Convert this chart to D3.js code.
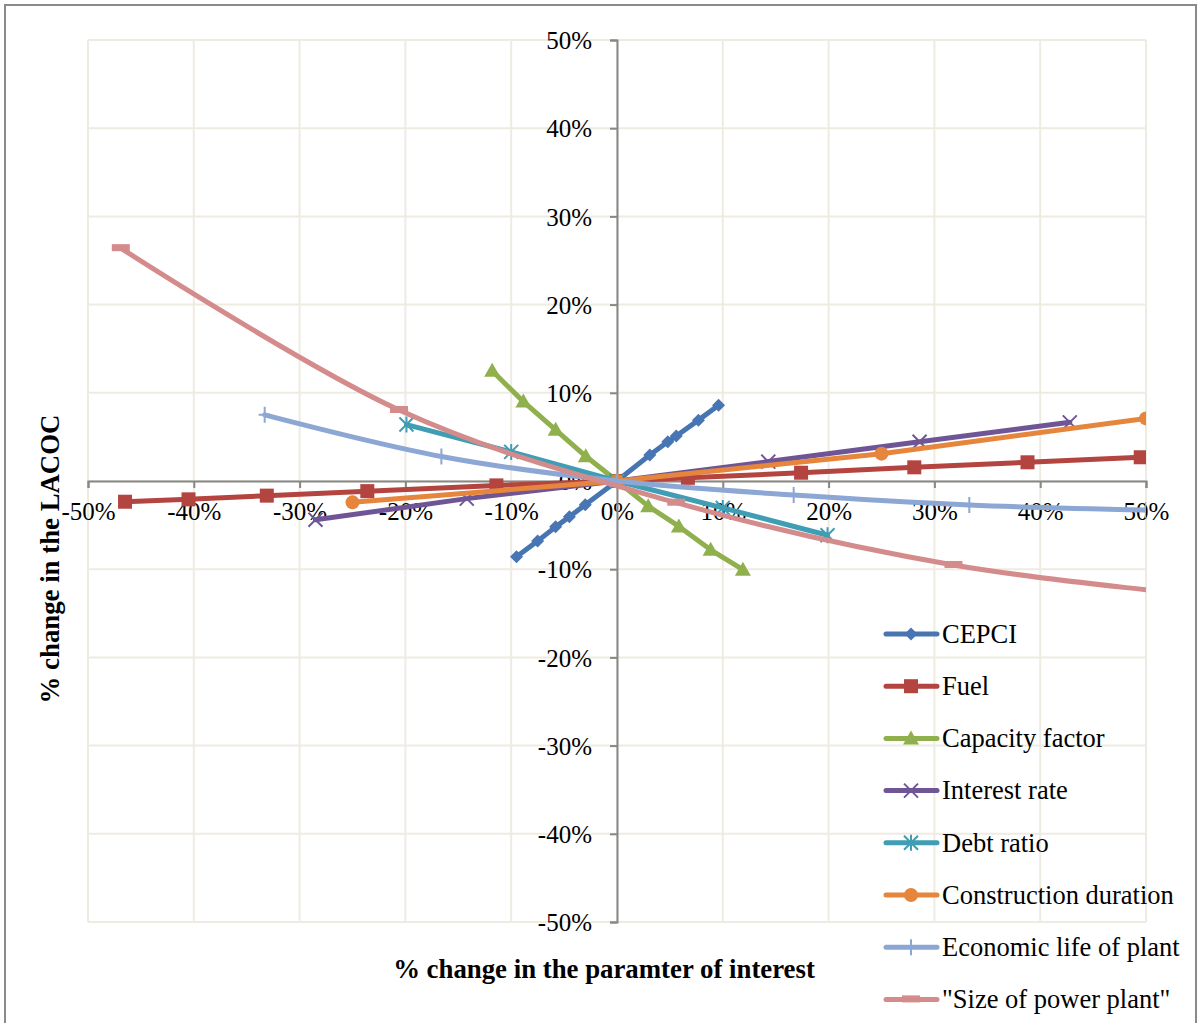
<!DOCTYPE html>
<html>
<head>
<meta charset="utf-8">
<script src="https://cdn.jsdelivr.net/npm/d3@7/dist/d3.min.js"></script>
<style>
  html, body { margin: 0; padding: 0; background: #fff; }
  svg { display: block; }
  text { font-family: "Liberation Serif", "Times New Roman", serif; fill: #000; }
</style>
</head>
<body>
<svg id="chart" width="1199" height="1023"></svg>
<script>
// Sensitivity of LACOC: [% change in parameter, % change in LACOC]
const cepci = [[-9.5,-8.6],[-7.5,-6.8],[-5.8,-5.2],[-4.5,-4.05],[-3.0,-2.7],[0,0],[3.1,2.95],[4.8,4.45],[5.6,5.1],[7.7,6.9],[9.6,8.6]];
const fuel = [[-46.5,-2.35],[-40.5,-2.08],[-33.1,-1.66],[-23.6,-1.15],[-11.4,-0.5],[0,0],[6.7,0.36],[17.4,0.94],[28.1,1.55],[38.8,2.12],[49.5,2.69]];
const capacityFactor = [[-11.8,12.5],[-8.85,9.0],[-5.8,5.8],[-2.95,2.8],[0,0],[2.95,-2.85],[5.85,-5.15],[8.85,-7.8],[11.9,-10.05]];
const interestRate = [[-28.5,-4.4],[-14.2,-2.0],[0,0],[14.3,2.2],[28.6,4.45],[42.8,6.65]];
const debtRatio = [[-19.9,6.4],[-10.0,3.3],[0,0],[10.0,-3.05],[19.9,-6.15]];
const constructionDuration = [[-25.0,-2.42],[0,0],[25.0,3.1],[50.0,7.1]];
const economicLife = [[-33.3,7.5],[-16.6,2.78],[0,0],[16.7,-1.59],[33.3,-2.72],[50.0,-3.3]];
const plantSize = [[-46.9,26.4],[-20.6,8.05],[5.6,-2.46],[31.8,-9.52],[57.9,-13.3]];

const tickValues = [-50,-40,-30,-20,-10,0,10,20,30,40,50];
const tickLabel = v => v + "%";

const seriesNames = ["CEPCI","Fuel","Capacity factor","Interest rate","Debt ratio","Construction duration","Economic life of plant","\"Size of power plant\""];
const seriesData = [cepci, fuel, capacityFactor, interestRate, debtRatio, constructionDuration, economicLife, plantSize];
const lineColors = ["#4675B2","#B3443F","#8FB04C","#705596","#3F9DB4","#E6853C","#8DA7D5","#D38C8B"];
const markerColors = ["#4876B4","#B3443F","#8FB04C","#705596","#3F9DB4","#E6853C","#8DA7D5","#D38C8B"];
const markerKinds = ["diamond","square","triangle","cross","asterisk","circle","plus","dash"];
const smoothed = [false,false,false,false,false,false,true,true];

const svg = d3.select("#chart");
const x = d3.scaleLinear().domain([-50,50]).range([88,1146]);
const y = d3.scaleLinear().domain([-50,50]).range([922,40]);

// outer frame
svg.append("rect").attr("x",5).attr("y",5).attr("width",1191).attr("height",1030)
  .attr("fill","none").attr("stroke","#8a8a8a").attr("stroke-width",2);

// gridlines
const grid = svg.append("g").attr("stroke","#EEEBE1").attr("stroke-width",2);
grid.selectAll(".gx").data(tickValues).join("line")
  .attr("x1",d=>x(d)).attr("x2",d=>x(d)).attr("y1",y(50)).attr("y2",y(-50));
grid.selectAll(".gy").data(tickValues).join("line")
  .attr("y1",d=>y(d)).attr("y2",d=>y(d)).attr("x1",x(-50)).attr("x2",x(50));

// axes through the origin
const xAxis = d3.axisBottom(x).tickValues(tickValues).tickFormat(tickLabel).tickSize(7).tickPadding(14);
const yAxis = d3.axisLeft(y).tickValues(tickValues).tickFormat(tickLabel).tickSize(7).tickPadding(18);

const gx = svg.append("g").attr("transform",`translate(0,${y(0)})`).call(xAxis);
const gy = svg.append("g").attr("transform",`translate(${x(0)},0)`).call(yAxis);
[gx,gy].forEach(g => {
  g.select(".domain").attr("stroke","#878787").attr("stroke-width",2);
  g.selectAll(".tick line").attr("stroke","#878787").attr("stroke-width",2);
  g.selectAll(".tick text").attr("font-family","Liberation Serif").attr("font-size",25).attr("fill","#000");
});
gx.selectAll(".tick text").attr("dy","0.71em");
gy.selectAll(".tick text").attr("dy","0.35em");

// axis titles
svg.append("text").attr("x",604).attr("y",978).attr("text-anchor","middle")
  .attr("font-size",26.8).attr("font-weight","bold").text("% change in the paramter of interest");
svg.append("text").attr("transform","translate(59,559) rotate(-90)").attr("text-anchor","middle")
  .attr("font-size",26.8).attr("font-weight","bold").text("% change in the LACOC");

// marker drawing
function drawMarker(g, kind, color) {
  switch (kind) {
    case "diamond":
      g.append("path").attr("d","M0,-6.5L6.5,0L0,6.5L-6.5,0Z").attr("fill",color);
      break;
    case "square":
      g.append("rect").attr("x",-7).attr("y",-7).attr("width",14).attr("height",14).attr("fill",color);
      break;
    case "triangle":
      g.append("path").attr("d","M0,-8L8,6L-8,6Z").attr("fill",color);
      break;
    case "cross":
      g.append("path").attr("d","M-7,-7L7,7M-7,7L7,-7").attr("stroke",color).attr("stroke-width",2).attr("fill","none");
      break;
    case "asterisk":
      g.append("path").attr("d","M-7,-7L7,7M-7,7L7,-7M0,-8L0,8").attr("stroke",color).attr("stroke-width",2).attr("fill","none");
      break;
    case "circle":
      g.append("circle").attr("r",7).attr("fill",color);
      break;
    case "plus":
      g.append("path").attr("d","M0,-8L0,8M-6,0L6,0").attr("stroke",color).attr("stroke-width",2).attr("fill","none");
      break;
    case "dash":
      g.append("rect").attr("x",-9).attr("y",-4).attr("width",18).attr("height",7).attr("fill",color);
      break;
  }
}

// plot-area clip
svg.append("clipPath").attr("id","plotClip").append("rect")
  .attr("x",x(-50)).attr("y",y(50)).attr("width",x(50)-x(-50)).attr("height",y(-50)-y(50));

const plot = svg.append("g").attr("clip-path","url(#plotClip)");
seriesData.forEach((data,i) => {
  const line = d3.line().x(d=>x(d[0])).y(d=>y(d[1]))
    .curve(smoothed[i] ? d3.curveCardinal.tension(0) : d3.curveLinear);
  const sg = plot.append("g");
  sg.append("path").datum(data).attr("d",line).attr("fill","none")
    .attr("stroke",lineColors[i]).attr("stroke-width",5)
    .attr("stroke-linejoin","round").attr("stroke-linecap","round");
  data.forEach(d => {
    const mg = sg.append("g").attr("transform",`translate(${x(d[0])},${y(d[1])})`);
    drawMarker(mg, markerKinds[i], markerColors[i]);
  });
});

// legend
const legend = svg.append("g");
seriesNames.forEach((name,i) => {
  const cy = 634 + i*52.2;
  const lg = legend.append("g");
  lg.append("line").attr("x1",886).attr("x2",937).attr("y1",cy).attr("y2",cy)
    .attr("stroke",lineColors[i]).attr("stroke-width",5).attr("stroke-linecap","round");
  const mg = lg.append("g").attr("transform",`translate(911,${cy})`);
  drawMarker(mg, markerKinds[i], markerColors[i]);
  lg.append("text").attr("x",942).attr("y",cy).attr("dy","0.33em")
    .attr("font-size",26.5).text(name);
});
</script>
</body>
</html>
